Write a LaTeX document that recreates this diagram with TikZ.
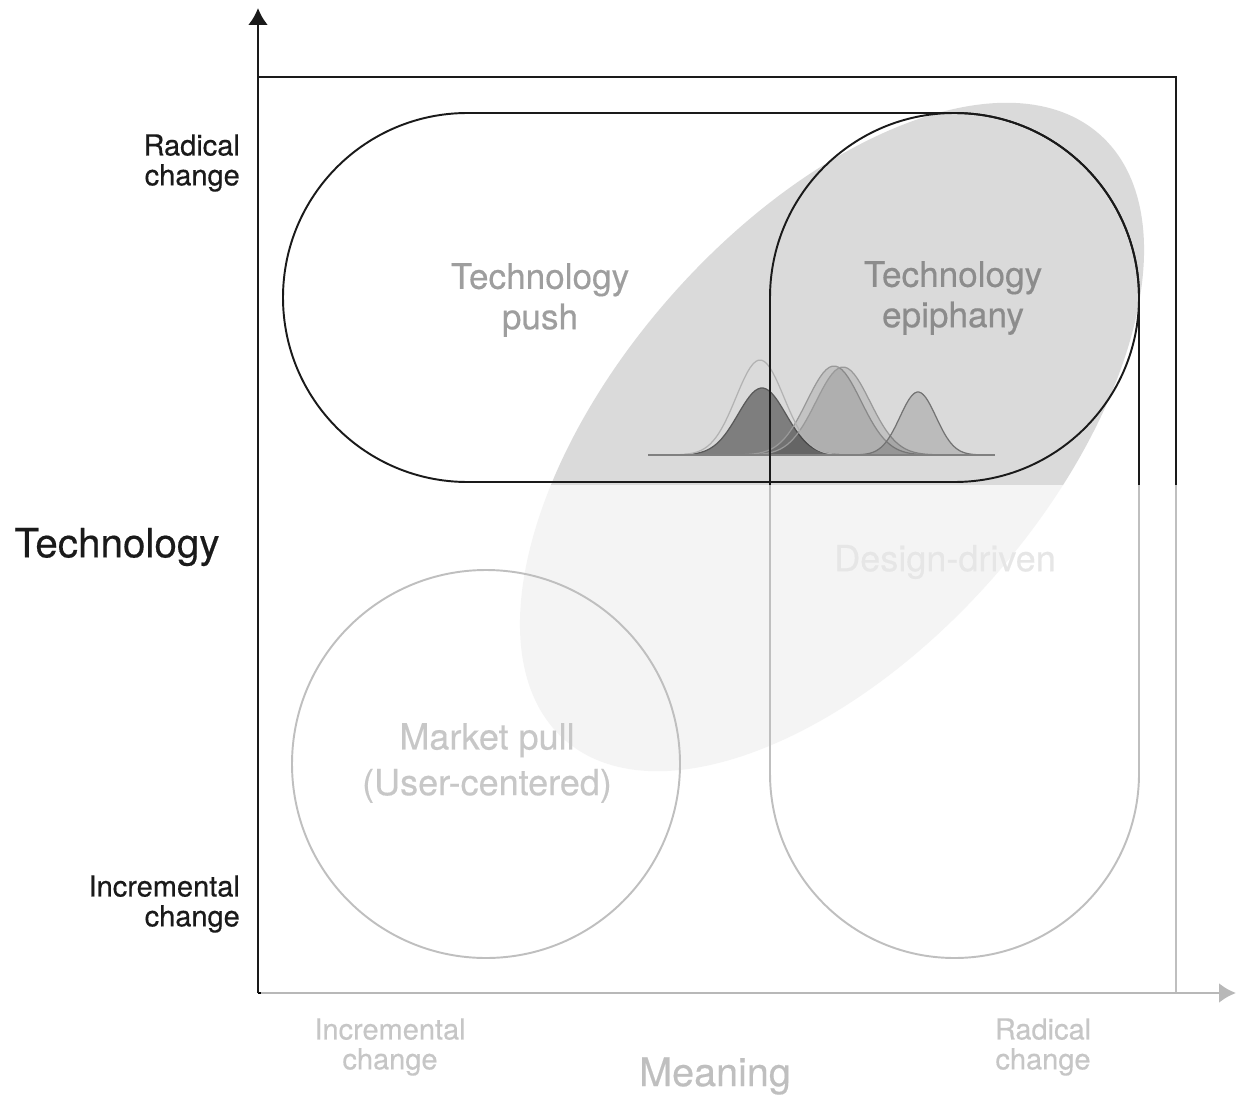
\documentclass[tikz,border=0pt]{standalone}
\usepackage{fontspec}
\setmainfont{TeX Gyre Heros}[FakeBold=0.4]
\usetikzlibrary{arrows.meta}
\definecolor{fieldgrey}{HTML}{DADADA}
\definecolor{ink}{HTML}{1A1A1A}

\begin{document}
\begin{tikzpicture}[x=0.2mm,y=0.2mm,
    axis/.style={line width=1.6pt,-{Latex[length=3.4mm,width=4mm]}},
    frame/.style={line width=1.3pt,color=ink},
    zone/.style={line width=1.1pt,color=ink},
    side/.style={font=\fontsize{16.5}{17}\selectfont,align=right,anchor=east,text=ink},
    inner/.style={font=\fontsize{20}{23}\selectfont,align=center},
    bell/.style={line width=0.7pt}]
    \useasboundingbox (0,0) rectangle (1236,1099);
    \coordinate (origin) at (258,106);
    \coordinate (ytop) at (258,1091);
    \coordinate (xend) at (1236,106);
    % grey field behind the quadrants
    \fill[fieldgrey] (832,662) ellipse[x radius=404,y radius=214,rotate=48.5];
    % bell curves
    \filldraw[bell,fill=black,fill opacity=0.42,draw=black!65] plot[domain=680:844,samples=60] (\x,{644+67*exp(-(\x-762)*(\x-762)/1152)}) -- cycle;
    \filldraw[bell,fill=black,fill opacity=0.1,draw=black!40] plot[domain=740:928,samples=60] (\x,{644+89*exp(-(\x-834)*(\x-834)/1458)}) -- cycle;
    \filldraw[bell,fill=black,fill opacity=0.1,draw=black!40] plot[domain=749:937,samples=60] (\x,{644+88*exp(-(\x-843)*(\x-843)/1458)}) -- cycle;
    \filldraw[bell,fill=black,fill opacity=0.14,draw=black!55] plot[domain=855:981,samples=60] (\x,{644+63*exp(-(\x-918)*(\x-918)/648)}) -- cycle;
    \draw[bell,draw=black!30] plot[domain=676:844,samples=60] (\x,{644+95*exp(-(\x-760)*(\x-760)/1152)});
    \draw[black!50,line width=0.8pt] (648,644) -- (995,644);
    % quadrant shapes
    \draw[zone] (467.5,986) -- (954.5,986) arc(90:-90:184.5) -- (467.5,617) arc(270:90:184.5) -- cycle;
    \draw[zone] (770,801.5) arc(180:0:184.5) -- (1139,325.5) arc(0:-180:184.5) -- cycle;
    \draw[zone] (486,335) circle[radius=194];
    \draw[frame] (258,1022) -- (1176,1022) -- (1176,106);
    \draw[axis] (origin) -- (xend);
    % quadrant names
    \node[inner,text=black!38] (push) at (540,799) {Technology\\push};
    \node[inner,text=black!45] (epiphany) at (953,801) {Technology\\epiphany};
    \node[inner,text=black!35,font=\fontsize{20.5}{23}\selectfont] (designdriven) at (945,537) {Design-driven};
    \node[inner,text=black!78,font=\fontsize{20.5}{26}\selectfont] (marketpull) at (487,336) {Market pull\\(User-centered)};
    \node[inner,text=black!80,font=\fontsize{16.5}{17}\selectfont] (incrX) at (390,52) {Incremental\\change};
    \node[inner,text=black!80,font=\fontsize{16.5}{17}\selectfont] (radicalX) at (1043,52) {Radical\\change};
    \node[inner,text=ink,font=\fontsize{22.5}{24}\selectfont] (meaning) at (715,23) {Meaning};
    % fade the lower half
    \fill[white,opacity=0.72] (260.5,0) rectangle (1236,614);
    \draw[axis,color=ink] (origin) -- (ytop);
    \node[side] (radicalY) at (246,936) {Radical\\change};
    \node[side] (incrY) at (246,195) {Incremental\\change};
    \node[text=ink,font=\fontsize{23}{25}\selectfont] (techlabel) at (117,552) {Technology};
\end{tikzpicture}
\end{document}
